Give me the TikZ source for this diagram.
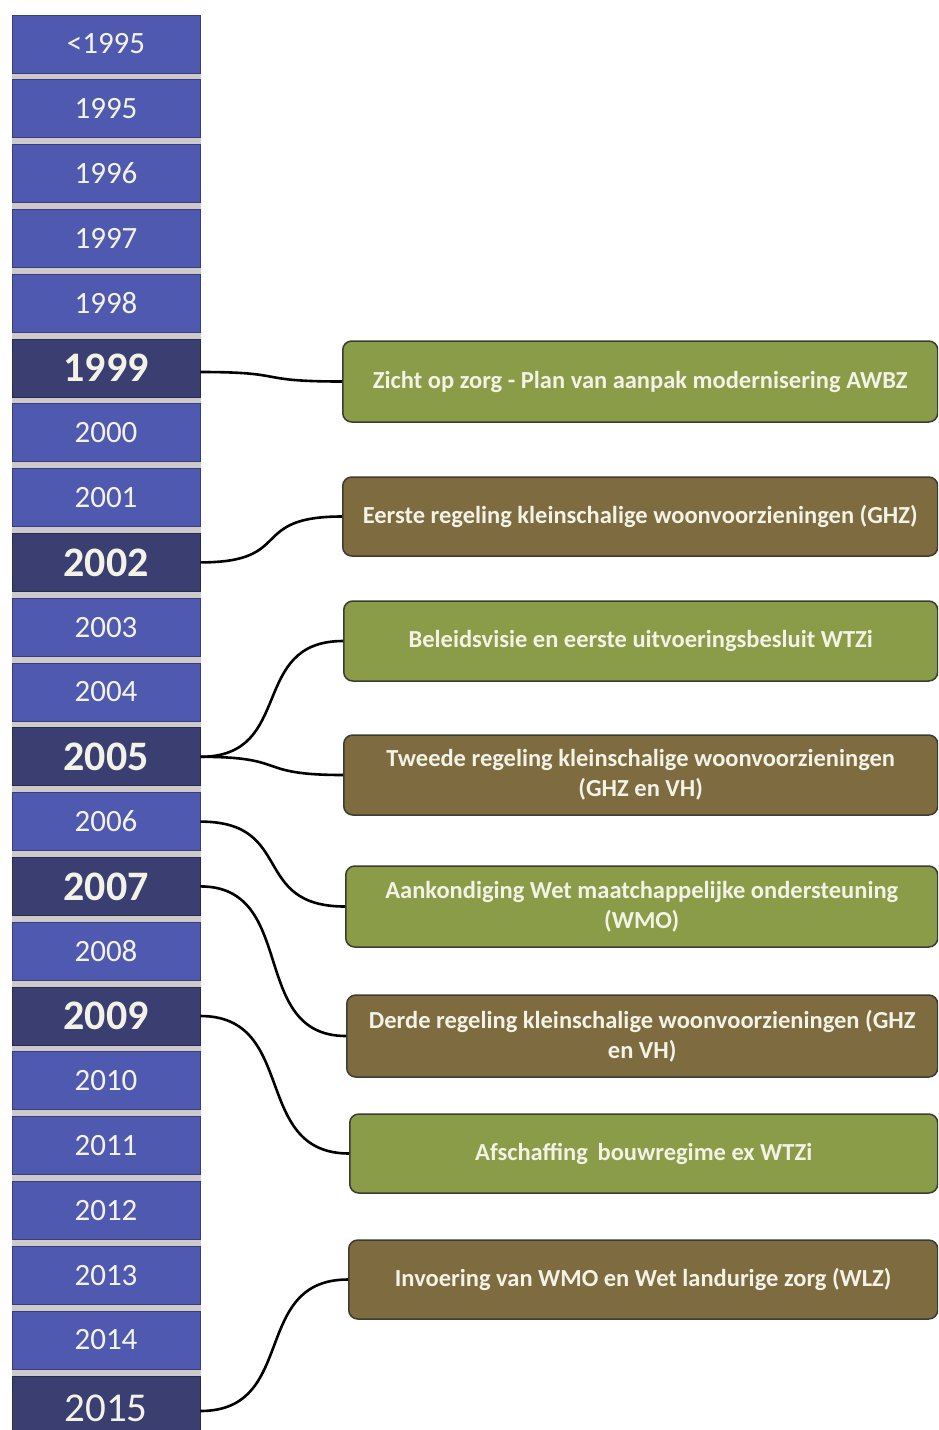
\documentclass[tikz,border=0pt]{standalone}
\usepackage{fontspec}
\setmainfont{Carlito}
\definecolor{yearblue}{RGB}{80,89,176}
\definecolor{yeardark}{RGB}{58,62,112}
\definecolor{evgreen}{RGB}{139,156,72}
\definecolor{evbrown}{RGB}{126,108,64}
\definecolor{evborder}{RGB}{60,60,50}
\definecolor{evtext}{RGB}{242,242,230}
\definecolor{gapgrey}{RGB}{206,202,204}
\tikzset{
  yearbox/.style={draw=yearblue!70!black, line width=0.8pt, fill=yearblue, minimum width=188pt, minimum height=58pt, inner sep=0pt, text=evtext, font=\fontsize{31}{33}\selectfont},
  yearhi/.style={yearbox, fill=yeardark, draw=yeardark!70!black, font=\fontsize{42}{44}\selectfont\bfseries},
  yearbig/.style={yearbox, fill=yeardark, draw=yeardark!70!black, font=\fontsize{41}{44}\selectfont},
  evbox/.style={draw=evborder, line width=1.5pt, rounded corners=9pt, anchor=west, inner sep=0pt, text=evtext, align=center, font=\fontsize{24.5}{30}\selectfont\bfseries},
  evg/.style={evbox, fill=evgreen},
  evb/.style={evbox, fill=evbrown},
  conn/.style={draw=black, line width=2.6pt}
}
\begin{document}
\begin{tikzpicture}[x=1pt,y=-1pt]
\useasboundingbox (0,0) rectangle (938,1430);
\clip (0,0) rectangle (938,1430);
\fill[white] (0,0) rectangle (938,1430);
\fill[gapgrey] (12,15) rectangle (201,1430);
% year column
\node[yearbox] (y0)  at (106,44.0)   {<1995};
\node[yearbox] (y1)  at (106,108.8)  {1995};
\node[yearbox] (y2)  at (106,173.6)  {1996};
\node[yearbox] (y3)  at (106,238.4)  {1997};
\node[yearbox] (y4)  at (106,303.2)  {1998};
\node[yearhi]  (y5)  at (106,368.0)  {1999};
\node[yearbox] (y6)  at (106,432.8)  {2000};
\node[yearbox] (y7)  at (106,497.6)  {2001};
\node[yearhi]  (y8)  at (106,562.4)  {2002};
\node[yearbox] (y9)  at (106,627.2)  {2003};
\node[yearbox] (y10) at (106,692.0)  {2004};
\node[yearhi]  (y11) at (106,756.8)  {2005};
\node[yearbox] (y12) at (106,821.6)  {2006};
\node[yearhi]  (y13) at (106,886.4)  {2007};
\node[yearbox] (y14) at (106,951.2)  {2008};
\node[yearhi]  (y15) at (106,1016.0) {2009};
\node[yearbox] (y16) at (106,1080.8) {2010};
\node[yearbox] (y17) at (106,1145.6) {2011};
\node[yearbox] (y18) at (106,1210.4) {2012};
\node[yearbox] (y19) at (106,1275.2) {2013};
\node[yearbox] (y20) at (106,1340.0) {2014};
\node[yearbig, minimum height=64pt] (y21) at (106,1408.0) {2015};
% events
\node[evg, minimum width=595pt, minimum height=81pt] (e1) at (342,381.5) {Zicht op zorg - Plan van aanpak modernisering AWBZ};
\node[evb, minimum width=595pt, minimum height=79pt] (e2) at (342,516.5) {Eerste regeling kleinschalige woonvoorzieningen (GHZ)};
\node[evg, minimum width=594pt, minimum height=80pt] (e3) at (343,641) {Beleidsvisie en eerste uitvoeringsbesluit WTZi};
\node[evb, minimum width=594pt, minimum height=80pt] (e4) at (343,775) {Tweede regeling kleinschalige woonvoorzieningen\\(GHZ en VH)};
\node[evg, minimum width=592pt, minimum height=81pt] (e5) at (345,906.5) {Aankondiging Wet maatchappelijke ondersteuning\\(WMO)};
\node[evb, minimum width=591pt, minimum height=82pt] (e6) at (346,1036) {Derde regeling kleinschalige woonvoorzieningen (GHZ\\en VH)};
\node[evg, minimum width=588pt, minimum height=79pt] (e7) at (349,1153.5) {Afschaffing\, bouwregime ex WTZi};
\node[evb, minimum width=589pt, minimum height=79pt] (e8) at (348,1279.5) {Invoering van WMO en Wet landurige zorg (WLZ)};
% connectors
\draw[conn] ([yshift=-4pt]y5.east) .. controls +(90,0) and +(-90,0) .. (e1.west);
\draw[conn] (y8.east) .. controls +(95,0) and +(-95,0) .. (e2.west);
\draw[conn] (y11.east) .. controls +(95,0) and +(-95,0) .. (e3.west);
\draw[conn] (y11.east) .. controls +(90,0) and +(-90,0) .. (e4.west);
\draw[conn] (y12.east) .. controls +(95,0) and +(-95,0) .. (e5.west);
\draw[conn] (y13.east) .. controls +(98,0) and +(-98,0) .. (e6.west);
\draw[conn] (y15.east) .. controls +(98,0) and +(-98,0) .. (e7.west);
\draw[conn] ([yshift=-3pt]y21.east) .. controls +(98,0) and +(-98,0) .. (e8.west);
\end{tikzpicture}
\end{document}
